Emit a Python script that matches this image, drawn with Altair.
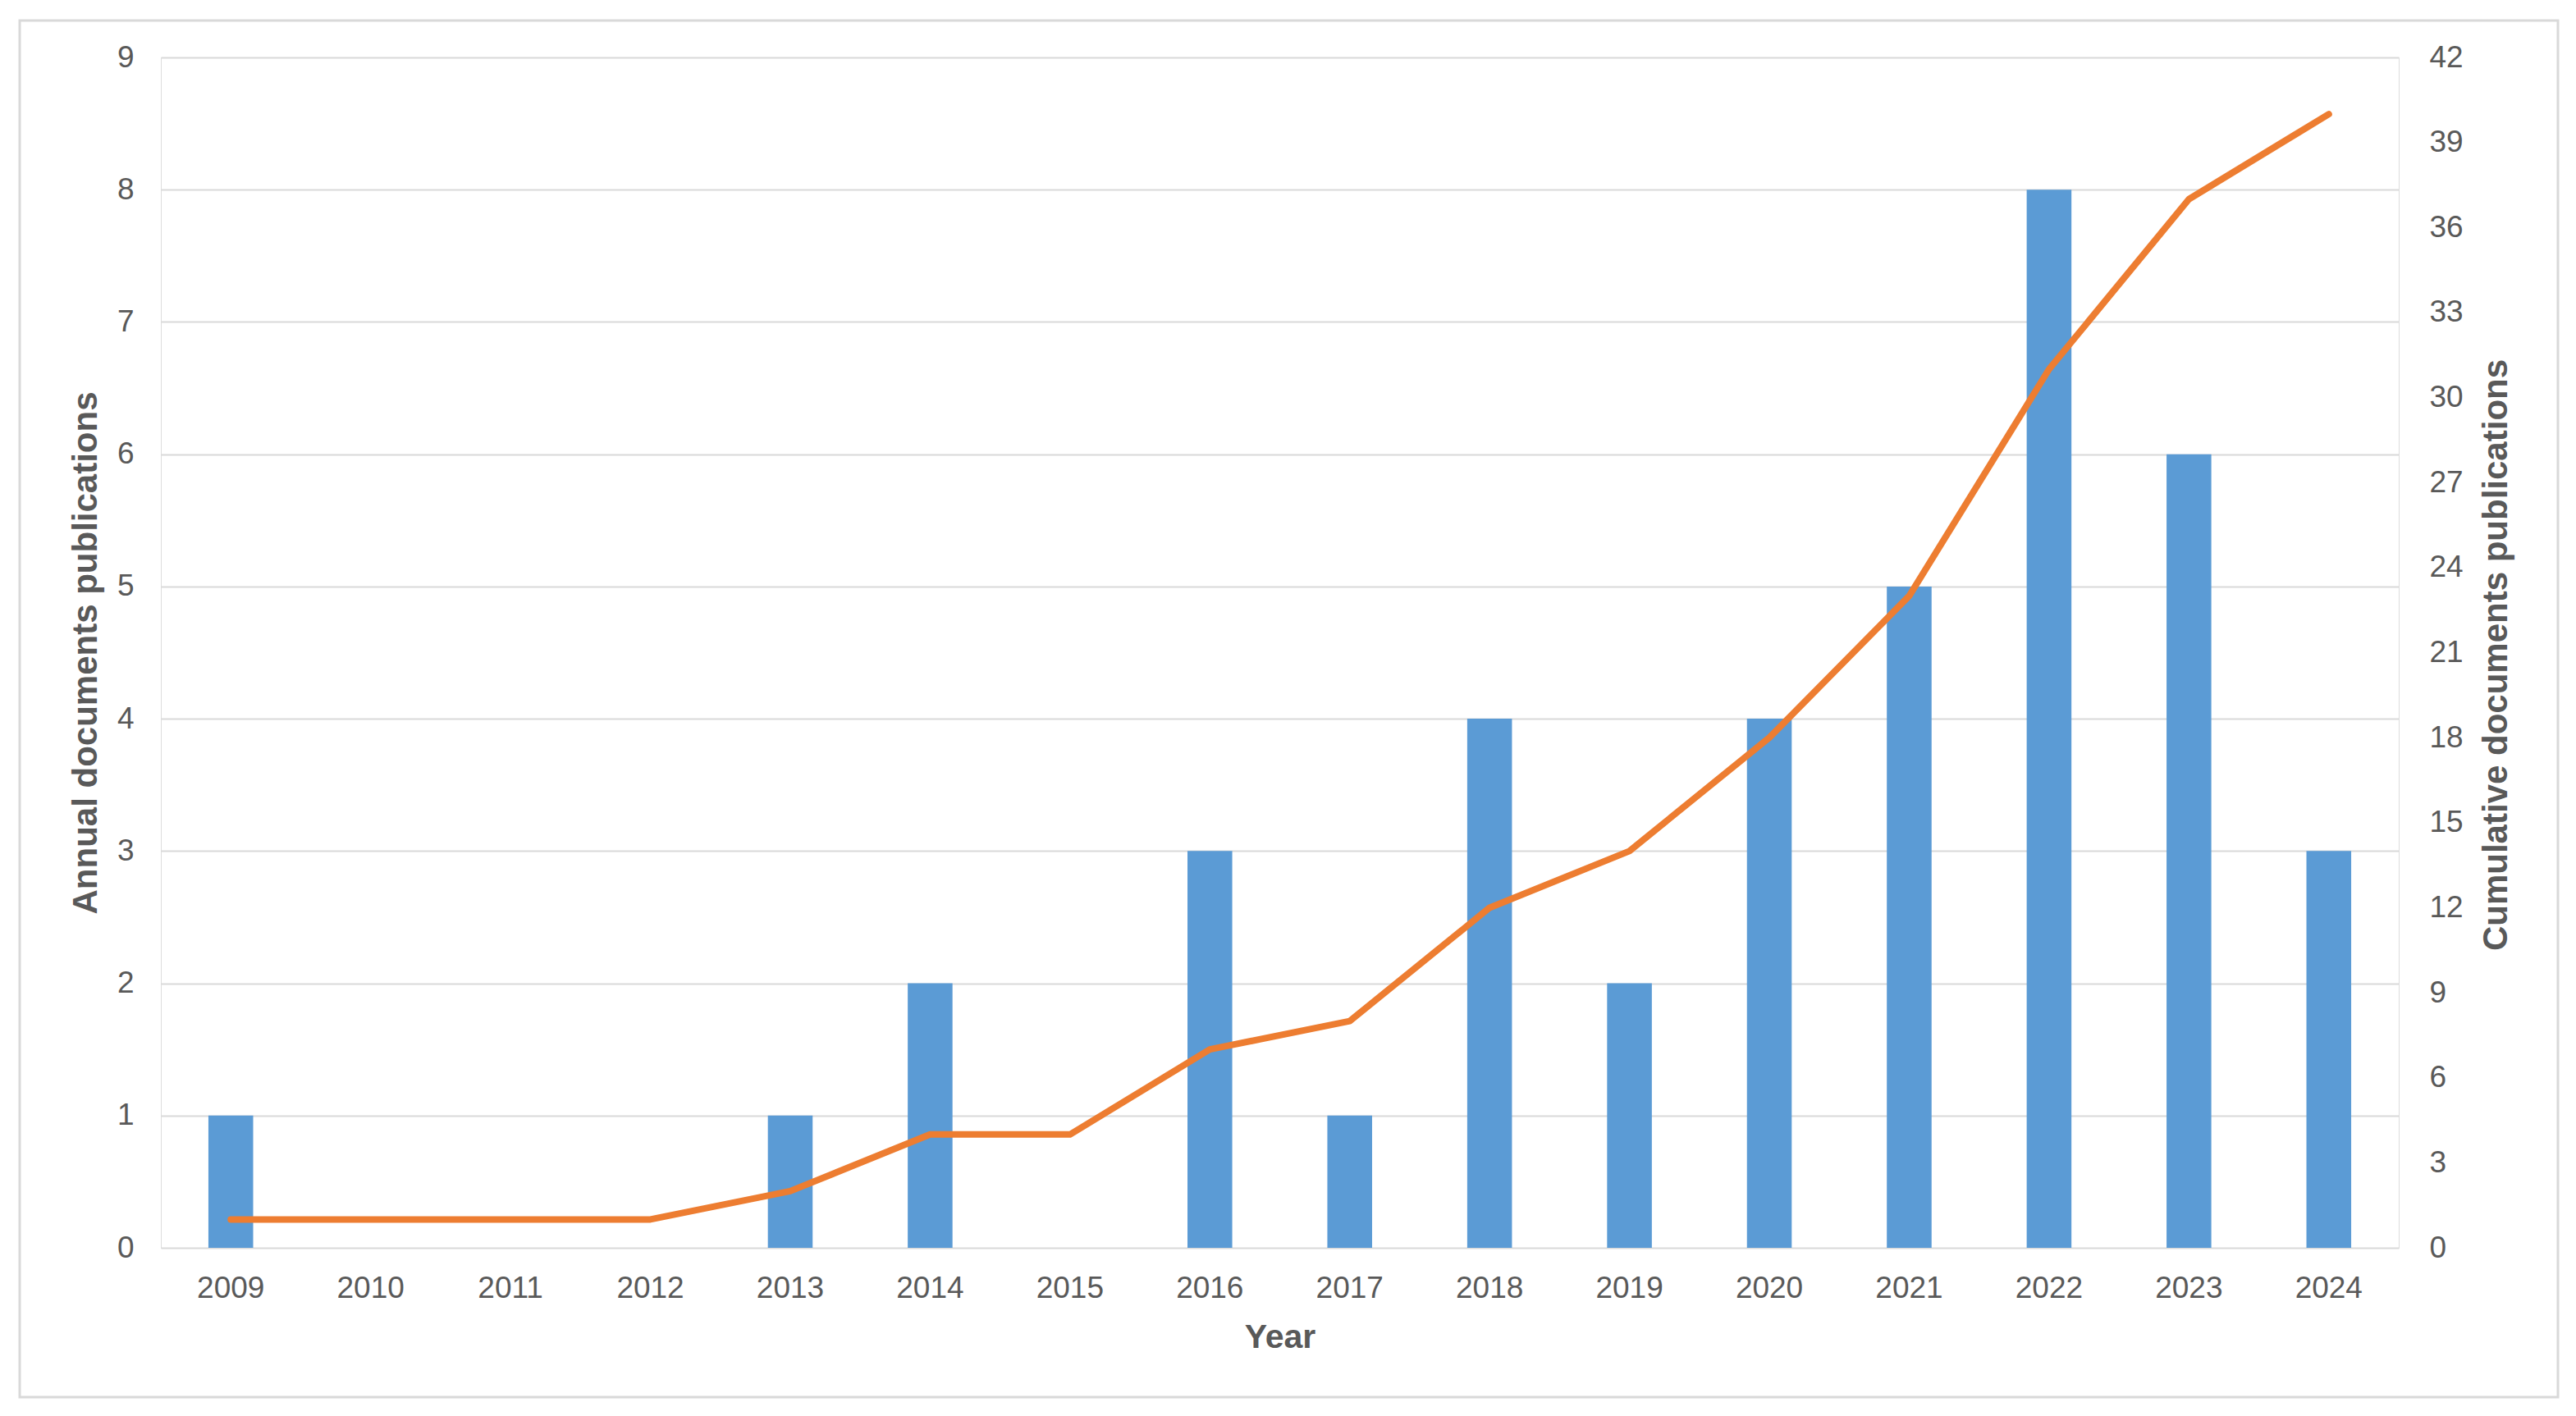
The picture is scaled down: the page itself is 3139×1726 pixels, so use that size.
import altair as alt
import pandas as pd

years = ["2009", "2010", "2011", "2012", "2013", "2014", "2015", "2016",
         "2017", "2018", "2019", "2020", "2021", "2022", "2023", "2024"]
annual = [1, 0, 0, 0, 1, 2, 0, 3, 1, 4, 2, 4, 5, 8, 6, 3]
cumulative = [1, 1, 1, 1, 2, 4, 4, 7, 8, 12, 14, 18, 23, 31, 37, 40]
left_ticks = list(range(0, 10))
right_ticks = list(range(0, 43, 3))

df = pd.DataFrame({"Year": years, "Annual": annual, "Cumulative": cumulative})

FONT = "Liberation Sans"
TXT = "#595959"
GRID = "#D9D9D9"

xenc = alt.X("Year:N", sort=years,
             scale=alt.Scale(paddingInner=0.68, paddingOuter=0.34),
             axis=alt.Axis(title="Year", labelAngle=0, domain=False, ticks=False,
                           labelPadding=31, titlePadding=22, labelFontSize=37,
                           titleFontSize=41, labelColor=TXT, titleColor=TXT,
                           titleFont=FONT, labelFont=FONT, titleFontWeight="bold"))

bars = alt.Chart(df).mark_bar(color="#5B9BD5").encode(
    x=xenc,
    y=alt.Y("Annual:Q", scale=alt.Scale(domain=[0, 9], nice=False),
            axis=alt.Axis(title="Annual documents publications", values=left_ticks,
                          domain=False, ticks=False, grid=True, gridColor=GRID,
                          gridWidth=2, labelPadding=33, titlePadding=16,
                          labelFontSize=37, titleFontSize=42, labelColor=TXT,
                          titleColor=TXT, titleFont=FONT, labelFont=FONT,
                          titleFontWeight="bold"))
)

line = alt.Chart(df).mark_line(color="#ED7D31", strokeWidth=8, strokeCap="round",
                               strokeJoin="round").encode(
    x=alt.X("Year:N", sort=years),
    y=alt.Y("Cumulative:Q", scale=alt.Scale(domain=[0, 42], nice=False),
            axis=alt.Axis(title="Cumulative documents publications", orient="right",
                          values=right_ticks, domain=False, ticks=False, grid=False,
                          labelPadding=37, labelFontSize=37,
                          titleFontSize=42, titleAngle=270, titleX=118, titleY=728,
                          titleAlign="center", titleBaseline="middle",
                          labelColor=TXT, titleColor=TXT, titleFont=FONT,
                          labelFont=FONT, titleFontWeight="bold"))
)

frame = alt.Chart(pd.DataFrame({"a": [0]})).mark_rect(
    fill=None, stroke=GRID, strokeWidth=3, clip=False).encode(
    x=alt.value(-172), x2=alt.value(2921), y=alt.value(-45), y2=alt.value(1633))

chart = alt.layer(bars, line, frame).resolve_scale(y="independent").properties(
    width=2727, height=1451,
    padding={"left": 188, "top": 62, "right": 200, "bottom": 190},
    autosize=alt.AutoSizeParams(type="none"),
).configure_view(stroke=None).configure(background="white")

chart.save("out.html", embed_options={"renderer": "svg", "actions": False})
